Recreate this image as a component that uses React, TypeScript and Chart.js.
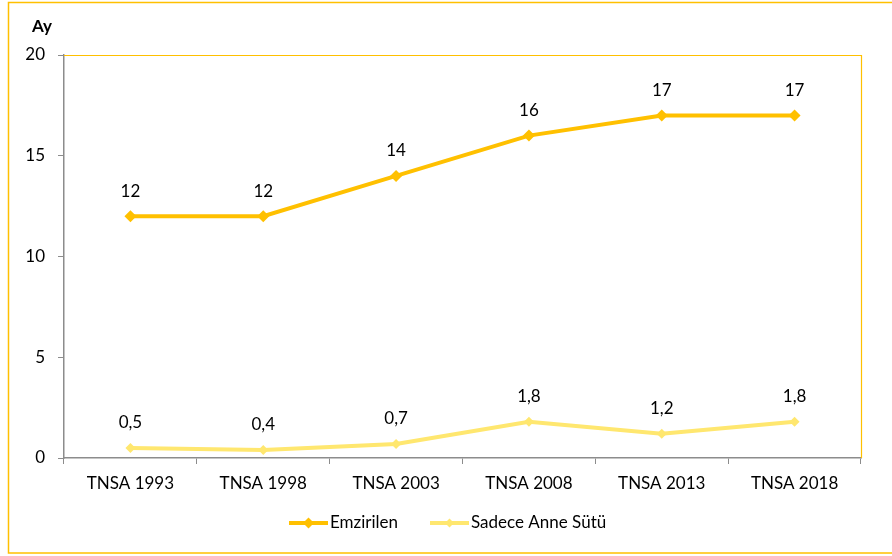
import React, { useEffect, useRef } from "react";
import { Chart, registerables } from "chart.js";

Chart.register(...registerables);

const categories = ["TNSA 1993", "TNSA 1998", "TNSA 2003", "TNSA 2008", "TNSA 2013", "TNSA 2018"];
const emzirilen = [12, 12, 14, 16, 17, 17];
const sadeceAnneSutu = [0.5, 0.4, 0.7, 1.8, 1.2, 1.8];
const seriesNames = ["Emzirilen", "Sadece Anne Sütü"];
const seriesColors = ["#FFC000", "#FFE76F"];
const yTicks = [0, 5, 10, 15, 20];
const axisTitle = "Ay";

const FONT = "Lato, 'Open Sans', sans-serif";
const FS = 17;

const fmt = (v: number) => String(v).replace(".", ",");

const decorPlugin = {
  id: "decor",
  afterDraw(chart: any) {
    const { ctx, chartArea } = chart;
    ctx.save();
    // outer border
    ctx.strokeStyle = "#FFC000";
    ctx.lineWidth = 1.5;
    ctx.strokeRect(8.5, 2.5, 900, 550.5);
    // plot top and right border
    ctx.beginPath();
    ctx.lineWidth = 1.2;
    ctx.moveTo(chartArea.left, chartArea.top + 0.5);
    ctx.lineTo(chartArea.right + 0.5, chartArea.top + 0.5);
    ctx.lineTo(chartArea.right + 0.5, chartArea.bottom);
    ctx.stroke();
    // axis title
    ctx.fillStyle = "#000";
    ctx.font = `bold ${FS}px ${FONT}`;
    ctx.textAlign = "center";
    ctx.textBaseline = "middle";
    ctx.fillText(axisTitle, 42, 27);
    // data labels
    ctx.font = `${FS}px ${FONT}`;
    chart.data.datasets.forEach((ds: any, i: number) => {
      const meta = chart.getDatasetMeta(i);
      meta.data.forEach((pt: any, j: number) => {
        ctx.fillText(fmt(ds.data[j]), pt.x, pt.y - 25);
      });
    });
    // legend
    const items = [
      { x: 289, w: 39, r: 5.5, lw: 4 },
      { x: 430, w: 39, r: 4.5, lw: 4 },
    ];
    const ly = 523;
    items.forEach((it, i) => {
      ctx.strokeStyle = seriesColors[i];
      ctx.fillStyle = seriesColors[i];
      ctx.lineWidth = it.lw;
      ctx.beginPath();
      ctx.moveTo(it.x, ly);
      ctx.lineTo(it.x + it.w, ly);
      ctx.stroke();
      const cx = it.x + it.w / 2;
      ctx.beginPath();
      ctx.moveTo(cx, ly - it.r);
      ctx.lineTo(cx + it.r, ly);
      ctx.lineTo(cx, ly + it.r);
      ctx.lineTo(cx - it.r, ly);
      ctx.closePath();
      ctx.fill();
      ctx.fillStyle = "#000";
      ctx.textAlign = "left";
      ctx.fillText(seriesNames[i], it.x + it.w + 2, ly);
    });
    ctx.restore();
  },
};

export default function App() {
  const ref = useRef<HTMLCanvasElement>(null);
  useEffect(() => {
    document.body.style.margin = "0";
    const chart = new Chart(ref.current!, {
      type: "line",
      data: {
        labels: categories,
        datasets: [
          {
            label: seriesNames[0],
            data: emzirilen,
            borderColor: seriesColors[0],
            backgroundColor: seriesColors[0],
            borderWidth: 4,
            pointStyle: "rectRot",
            pointRadius: 6,
            pointBorderWidth: 0,
            tension: 0,
          },
          {
            label: seriesNames[1],
            data: sadeceAnneSutu,
            borderColor: seriesColors[1],
            backgroundColor: seriesColors[1],
            borderWidth: 4,
            pointStyle: "rectRot",
            pointRadius: 5,
            pointBorderWidth: 0,
            tension: 0,
          },
        ],
      },
      options: {
        animation: false,
        responsive: false,
        maintainAspectRatio: false,
        layout: { padding: { left: 0, top: 55, right: 31, bottom: 58 } },
        plugins: { legend: { display: false }, tooltip: { enabled: false } },
        scales: {
          x: {
            offset: true,
            afterFit: (s: any) => { s.height = 40; },
            grid: { offset: true, drawOnChartArea: false, drawTicks: true, tickLength: 6, color: "#8C8C8C" },
            border: { display: true, color: "#8C8C8C", width: 1.5 },
            ticks: { color: "#000", font: { family: FONT, size: FS }, padding: 9 },
          },
          y: {
            min: 0,
            max: 20,
            afterFit: (s: any) => { s.width = 64; },
            afterBuildTicks: (s: any) => { s.ticks = yTicks.map((v) => ({ value: v })); },
            grid: { drawOnChartArea: false, drawTicks: true, tickLength: 6, color: "#8C8C8C" },
            border: { display: true, color: "#8C8C8C", width: 1.5 },
            ticks: { color: "#000", font: { family: FONT, size: FS }, padding: 13 },
          },
        },
      },
      plugins: [decorPlugin],
    });
    return () => chart.destroy();
  }, []);
  return (
    <div style={{ width: 892, height: 556 }}>
      <canvas ref={ref} width={892} height={556} style={{ display: "block" }} />
    </div>
  );
}
